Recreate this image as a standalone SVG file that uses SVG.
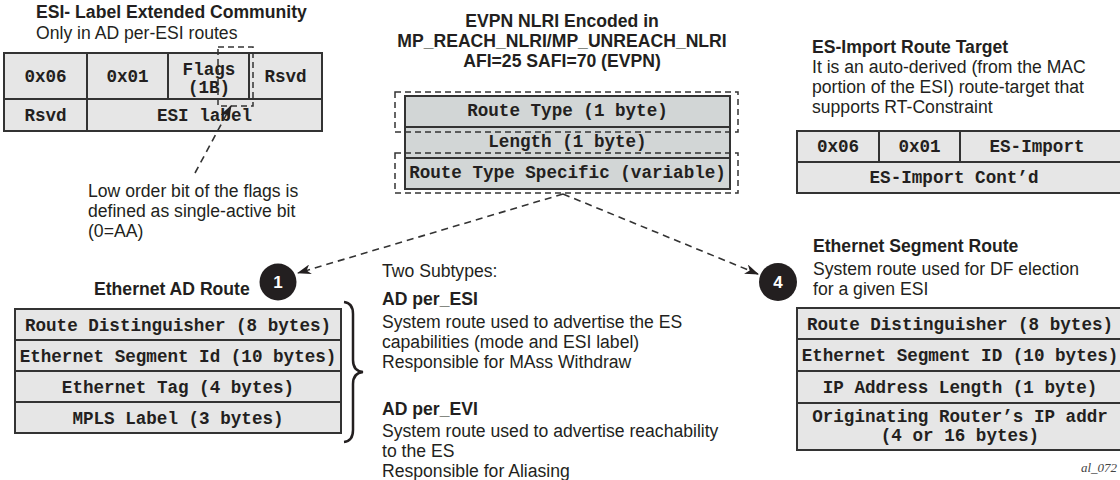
<svg xmlns="http://www.w3.org/2000/svg" width="1120" height="480" viewBox="0 0 1120 480">
<defs>
<style>
.t{font-family:"Liberation Sans",Arial,sans-serif;font-size:17.6px;fill:#231f20}
.b{font-weight:bold}
.c{text-anchor:middle}
.m{font-family:"Liberation Mono","Courier New",monospace;font-size:17.6px;font-weight:bold;fill:#231f20;text-anchor:middle}
.cell{fill:#e6e6e6;stroke:#333;stroke-width:2}
.cellc{fill:#d2d6d6;stroke:#333;stroke-width:2}
.dash{fill:none;stroke:#333;stroke-width:1.5;stroke-dasharray:6 4}
.conn{fill:none;stroke:#333;stroke-width:1.6;stroke-dasharray:7 5}
.circ{fill:#231f20}
.num{font-family:"Liberation Sans",Arial,sans-serif;font-size:17px;font-weight:bold;fill:#fff;text-anchor:middle}
</style>
<marker id="ah" markerWidth="14" markerHeight="10" refX="13" refY="5" orient="auto" markerUnits="userSpaceOnUse"><path d="M0,0 L14,5 L0,10 L4,5 z" fill="#231f20"/></marker>
</defs>
<rect width="1120" height="480" fill="#fff"/>

<g id="esi-label">
<text class="t b" x="36" y="18">ESI- Label Extended Community</text>
<text class="t" x="36" y="39">Only in AD per-ESI routes</text>
<rect class="cell" x="4" y="53" width="83" height="46"/>
<rect class="cell" x="87" y="53" width="81" height="46"/>
<rect class="cell" x="168" y="53" width="81" height="46"/>
<rect class="cell" x="249" y="53" width="73" height="46"/>
<rect class="cell" x="4" y="99" width="83" height="32"/>
<rect class="cell" x="87" y="99" width="235" height="32"/>
<text class="m" x="45.5" y="82">0x06</text>
<text class="m" x="127.5" y="82">0x01</text>
<text class="m" x="209" y="75">Flags</text>
<text class="m" x="209" y="93">(1B)</text>
<text class="m" x="285.5" y="82">Rsvd</text>
<text class="m" x="45.5" y="121">Rsvd</text>
<text class="m" x="204.5" y="121">ESI label</text>
<rect class="dash" x="218" y="47" width="35" height="59"/>
</g>

<g id="low-order-note">
<text class="t" x="88" y="197">Low order bit of the flags is</text>
<text class="t" x="88" y="217">defined as single-active bit</text>
<text class="t" x="88" y="237">(0=AA)</text>
</g>

<g id="evpn-nlri">
<text class="t b c" x="562" y="27">EVPN NLRI Encoded in</text>
<text class="t b c" x="562" y="47">MP_REACH_NLRI/MP_UNREACH_NLRI</text>
<text class="t b c" x="562" y="67">AFI=25 SAFI=70 (EVPN)</text>
<rect class="cellc" x="405" y="96" width="325" height="31"/>
<rect class="cellc" x="405" y="127" width="325" height="31"/>
<rect class="cellc" x="405" y="158" width="325" height="31"/>
<text class="m" x="567.5" y="116">Route Type (1 byte)</text>
<text class="m" x="567.5" y="147">Length (1 byte)</text>
<text class="m" x="567.5" y="178">Route Type Specific (variable)</text>
<rect class="dash" x="395" y="92" width="343" height="40"/>
<rect class="dash" x="395" y="153" width="343" height="40"/>
</g>

<g id="connectors">
<line class="conn" x1="195" y1="173" x2="231" y2="106" marker-end="url(#ah)"/>
<line class="conn" x1="563" y1="194" x2="298" y2="273" marker-end="url(#ah)"/>
<line class="conn" x1="563" y1="194" x2="758" y2="274" marker-end="url(#ah)"/>
</g>

<g id="ethernet-ad-route">
<circle class="circ" cx="278" cy="282" r="18.5"/>
<text class="num" x="278" y="288">1</text>
<text class="t b" x="94" y="295">Ethernet AD Route</text>
<rect class="cell" x="15" y="309" width="326" height="31"/>
<rect class="cell" x="15" y="340" width="326" height="31"/>
<rect class="cell" x="15" y="371" width="326" height="31"/>
<rect class="cell" x="15" y="402" width="326" height="31"/>
<text class="m" x="178" y="331">Route Distinguisher (8 bytes)</text>
<text class="m" x="178" y="362">Ethernet Segment Id (10 bytes)</text>
<text class="m" x="178" y="393">Ethernet Tag (4 bytes)</text>
<text class="m" x="178" y="424">MPLS Label (3 bytes)</text>
<path d="M344,302 Q353,303 353,314 L353,360 Q353,371 363,372 Q353,373 353,384 L353,430 Q353,441 344,442" fill="none" stroke="#231f20" stroke-width="2.5"/>
</g>

<g id="subtypes">
<text class="t" x="382" y="277">Two Subtypes:</text>
<text class="t b" x="382" y="305">AD per_ESI</text>
<text class="t" x="382" y="328">System route used to advertise the ES</text>
<text class="t" x="382" y="348">capabilities (mode and ESI label)</text>
<text class="t" x="382" y="368">Responsible for MAss Withdraw</text>
<text class="t b" x="382" y="415">AD per_EVI</text>
<text class="t" x="382" y="437">System route used to advertise reachability</text>
<text class="t" x="382" y="457">to the ES</text>
<text class="t" x="382" y="477">Responsible for Aliasing</text>
</g>

<g id="es-import">
<text class="t b" x="812" y="53">ES-Import Route Target</text>
<text class="t" x="812" y="73">It is an auto-derived (from the MAC</text>
<text class="t" x="812" y="93">portion of the ESI) route-target that</text>
<text class="t" x="812" y="113">supports RT-Constraint</text>
<rect class="cell" x="797" y="131" width="82" height="31"/>
<rect class="cell" x="879" y="131" width="81" height="31"/>
<rect class="cell" x="960" y="131" width="170" height="31"/>
<rect class="cell" x="797" y="162" width="333" height="31"/>
<text class="m" x="838" y="152">0x06</text>
<text class="m" x="919.5" y="152">0x01</text>
<text class="m" x="1037" y="152">ES-Import</text>
<text class="m" x="954" y="183">ES-Import Cont’d</text>
</g>

<g id="ethernet-segment-route">
<circle class="circ" cx="778" cy="282" r="19"/>
<text class="num" x="778" y="288">4</text>
<text class="t b" x="813" y="252">Ethernet Segment Route</text>
<text class="t" x="813" y="275">System route used for DF election</text>
<text class="t" x="813" y="295">for a given ESI</text>
<rect class="cell" x="797" y="308" width="327" height="31"/>
<rect class="cell" x="797" y="339" width="327" height="32"/>
<rect class="cell" x="797" y="371" width="327" height="32"/>
<rect class="cell" x="797" y="403" width="327" height="47"/>
<text class="m" x="960" y="330">Route Distinguisher (8 bytes)</text>
<text class="m" x="960" y="361">Ethernet Segment ID (10 bytes)</text>
<text class="m" x="960" y="393">IP Address Length (1 byte)</text>
<text class="m" x="960" y="422">Originating Router’s IP addr</text>
<text class="m" x="960" y="441">(4 or 16 bytes)</text>
</g>

<text x="1081" y="472" font-family="'Liberation Serif','Times New Roman',serif" font-style="italic" font-size="13" fill="#444">al_072</text>
</svg>
